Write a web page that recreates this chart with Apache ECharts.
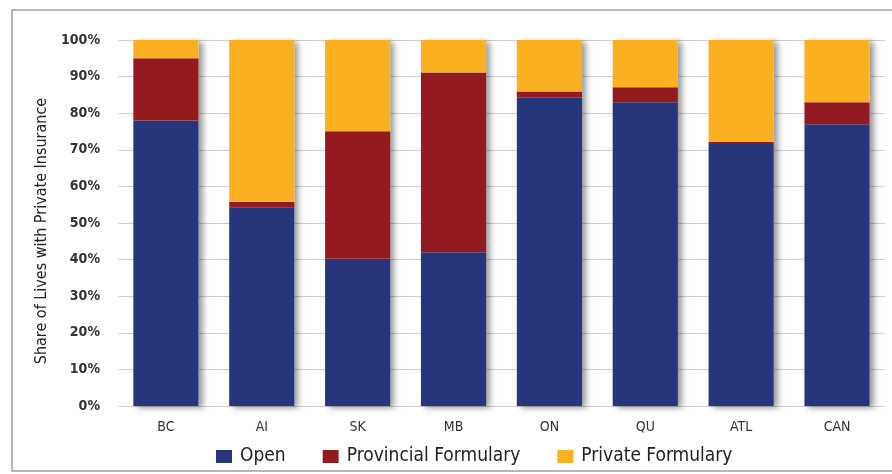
<!DOCTYPE html>
<html>
<head>
<meta charset="utf-8">
<script src="https://cdn.jsdelivr.net/npm/echarts@6/dist/echarts.min.js"></script>
<style>
  html, body { margin: 0; padding: 0; background: #ffffff; }
  #chart { width: 892px; height: 474px; }
</style>
</head>
<body>
<div id="chart"></div>
<script>
// Regions along the x axis
const regions = ['BC', 'AI', 'SK', 'MB', 'ON', 'QU', 'ATL', 'CAN'];

// Share of lives (%) by plan type, stacked to 100%
const openShare        = [78.0, 54.3, 40.2, 42.0, 84.2, 83.0, 71.6, 77.0];
const provincialShare  = [17.0,  1.5, 34.9, 49.1,  1.7,  4.1,  0.5,  6.0];
const privateShare     = [ 5.0, 44.2, 24.9,  8.9, 14.1, 12.9, 27.9, 17.0];

const seriesNames = ['Open', 'Provincial Formulary', 'Private Formulary'];
const seriesColors = ['#27367a', '#931b1f', '#fbb021'];

const narrow = '"Liberation Sans Narrow", "DejaVu Sans Condensed", "Liberation Sans", sans-serif';

const values = [openShare, provincialShare, privateShare];
// column totals, used for a single drop shadow behind each whole stack
const totals = regions.map((_, i) => values.reduce((s, arr) => s + arr[i], 0));

const chart = echarts.init(document.getElementById('chart'), null, { renderer: 'canvas' });

const stackSeries = seriesNames.map((name, i) => ({
  name: name,
  type: 'bar',
  stack: 'share',
  data: values[i],
  barCategoryGap: '32%',
  barGap: '-100%',
  z: 3,
  itemStyle: { color: seriesColors[i] }
}));

chart.setOption({
  backgroundColor: '#ffffff',
  animation: false,
  graphic: [{
    type: 'rect',
    shape: { x: 12, y: 10, width: 900, height: 461 },
    style: { fill: 'none', stroke: '#a0a0a0', lineWidth: 1.5 },
    silent: true,
    z: -1
  }],
  grid: { left: 118, right: 7, top: 40, bottom: 68, containLabel: false },
  legend: {
    left: 211,
    top: 442,
    itemWidth: 16,
    itemHeight: 13,
    itemGap: 37,
    icon: 'rect',
    textStyle: { fontFamily: narrow, fontSize: 19, color: '#222222', padding: [0, 0, 0, 3] },
    data: seriesNames
  },
  xAxis: {
    type: 'category',
    data: regions,
    axisLine: { show: false },
    axisTick: { show: false },
    axisLabel: { fontFamily: narrow, fontSize: 14, color: '#333333', margin: 14 }
  },
  yAxis: {
    type: 'value',
    min: 0,
    max: 100,
    interval: 10,
    name: 'Share of Lives with Private Insurance',
    nameLocation: 'middle',
    nameGap: 61,
    nameTextStyle: { fontFamily: narrow, fontSize: 16, color: '#222222', padding: [0, 16, 0, 0] },
    axisLine: { show: false },
    axisTick: { show: false },
    axisLabel: {
      formatter: '{value}%',
      fontFamily: narrow,
      fontSize: 14,
      fontWeight: 'bold',
      color: '#333333',
      margin: 18
    },
    splitLine: { lineStyle: { color: '#cfcfcf', width: 1 } }
  },
  series: [{
    name: 'stack shadow',
    type: 'bar',
    data: totals,
    barCategoryGap: '32%',
    barGap: '-100%',
    z: 2,
    silent: true,
    itemStyle: {
      color: '#ffffff',
      shadowColor: 'rgba(0,0,0,0.4)',
      shadowBlur: 6,
      shadowOffsetX: 4,
      shadowOffsetY: 2
    }
  }].concat(stackSeries)
});
</script>
</body>
</html>
